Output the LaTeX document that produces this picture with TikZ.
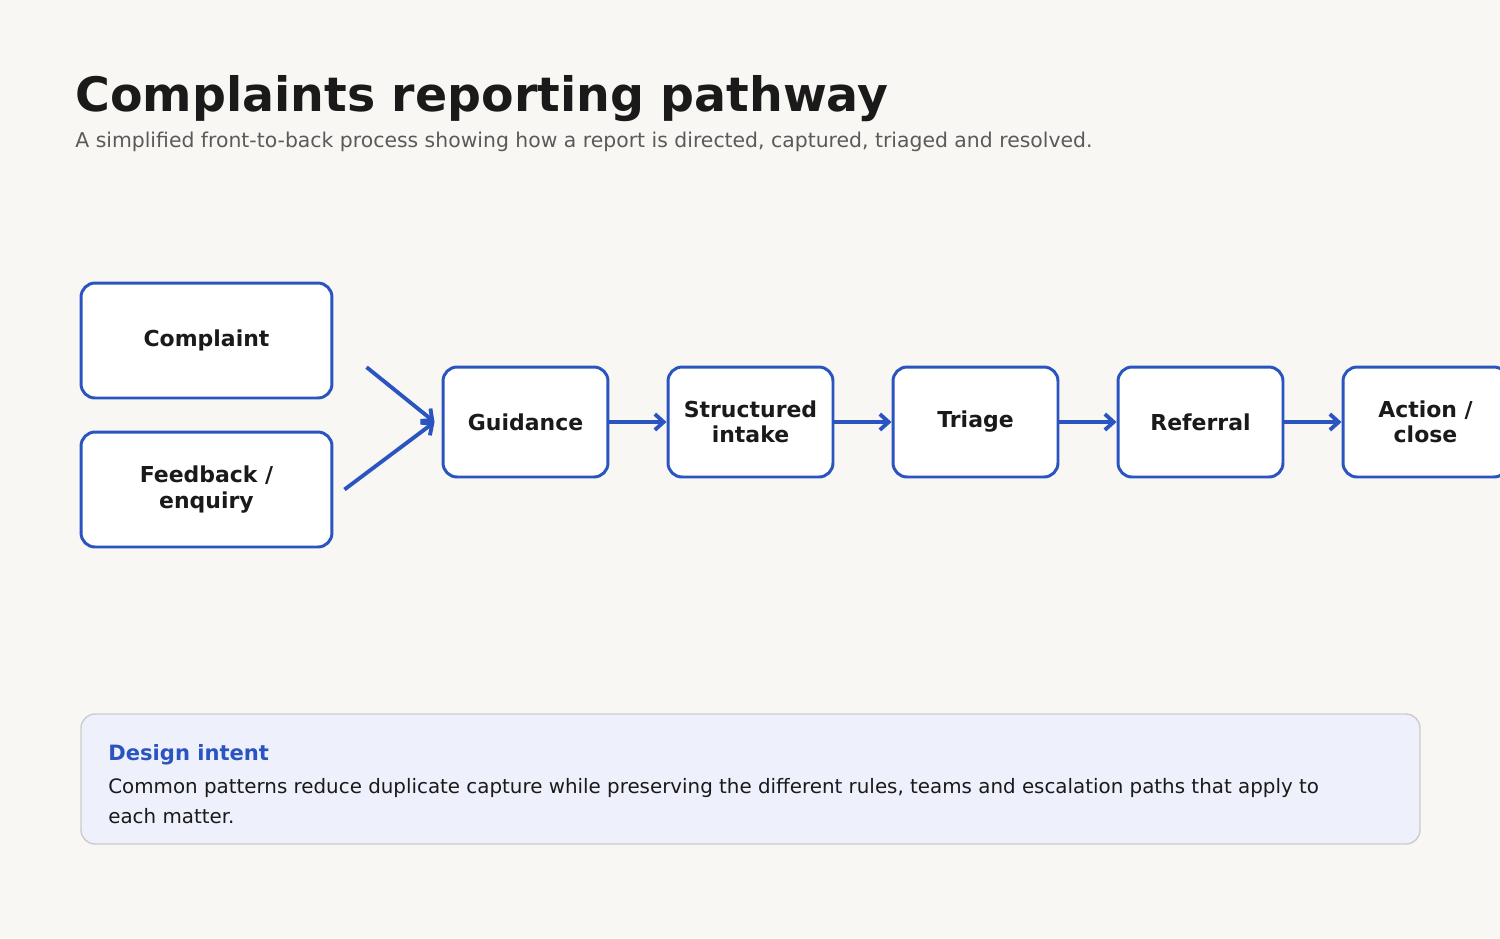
\documentclass[tikz,border=0pt]{standalone}
\usepackage{fontspec}
\setmainfont{DejaVu Sans}
\usetikzlibrary{arrows.meta}
\definecolor{bgpaper}{HTML}{F8F7F4}
\definecolor{flowblue}{HTML}{2A55C0}
\definecolor{inktext}{HTML}{1A1A1A}
\definecolor{subgray}{HTML}{5A5A5A}
\definecolor{notefill}{HTML}{EEF1FB}
\definecolor{noteline}{HTML}{CCCCCC}
\begin{document}
\begin{tikzpicture}[
        x=0.02cm, y=-0.02cm,
        stepBox/.style={rectangle, rounded corners=8pt, draw=flowblue, line width=1.7pt, fill=white,
            text=inktext, font=\fontsize{12.5}{14.5}\selectfont\bfseries, align=center,
            minimum width=3.3cm, minimum height=2.2cm, inner sep=0pt},
        srcBox/.style={stepBox, minimum width=5.02cm, minimum height=2.3cm},
        flowArrow/.style={draw=flowblue, line width=2.2pt, -{Straight Barb[length=5pt,width=9pt,line width=2.2pt]}}
    ]
        % Page and frame
        \fill[bgpaper] (0,0) rectangle (1500,938);
        \useasboundingbox (0,0) rectangle (1500,938);

        % Heading
        \node[anchor=base west, inner sep=0pt, text=inktext, font=\fontsize{27}{30}\selectfont\bfseries] (title) at (75,111) {Complaints reporting pathway};
        \node[anchor=base west, inner sep=0pt, text=subgray, font=\fontsize{11.6}{14}\selectfont] (subtitle) at (75,147) {A simplified front-to-back process showing how a report is directed, captured, triaged and resolved.};

        % Sources
        \node[srcBox] (complaint) at (206.5,340.5) {Complaint};
        \node[srcBox] (feedback) at (206.5,489.5) {Feedback /\\enquiry};

        % Main chain
        \node[stepBox] (guidance) at (525.5,422) {Guidance};
        \node[stepBox] (intake) at (750.5,422) {Structured\\intake};
        \node[stepBox] (triage) at (975.5,422) {Triage};
        \node[stepBox] (referral) at (1200.5,422) {Referral};
        \node[stepBox] (close) at (1425.5,422) {Action /\\close};

        % Arrows
        \draw[flowArrow, shorten <=11\pgflinewidth] (complaint.east) -- ([xshift=-0.14cm]guidance.west);
        \draw[flowArrow] ([xshift=0.22cm]feedback.east) -- ([xshift=-0.14cm]guidance.west);
        \draw[flowArrow] (guidance) -- (intake);
        \draw[flowArrow] (intake) -- (triage);
        \draw[flowArrow] (triage) -- (referral);
        \draw[flowArrow] (referral) -- (close);

        % Note panel
        \draw[noteline, fill=notefill, rounded corners=8pt, line width=0.8pt] (81,714) rectangle (1420,844);
        \node[anchor=base west, inner sep=0pt, text=flowblue, font=\fontsize{12}{14}\selectfont\bfseries] (noteHead) at (108,760) {Design intent};
        \node[anchor=north west, inner sep=0pt, text=inktext, align=left, font=\fontsize{11.3}{17}\selectfont] (noteBody) at (108,778) {Common patterns reduce duplicate capture while preserving the different rules, teams and escalation paths that apply to\\each matter.};
    \end{tikzpicture}
\end{document}
